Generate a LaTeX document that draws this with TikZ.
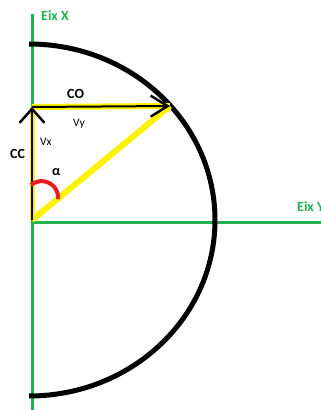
\documentclass[tikz,border=0pt]{standalone}
\usepackage{fontspec}
\setmainfont{Carlito}
\usetikzlibrary{arrows.meta}
\definecolor{pgreen}{HTML}{22B14C}
\definecolor{pyellow}{HTML}{FFF200}
\definecolor{pred}{HTML}{ED1C24}
\begin{document}
\begin{tikzpicture}[x=1pt,y=-1pt,
  axis/.style={draw=pgreen,line width=3pt},
  lbl/.style={inner sep=0pt,anchor=base west,font=\fontsize{14}{16}\selectfont\bfseries},
  axlbl/.style={lbl,text=pgreen},
  small/.style={inner sep=0pt,anchor=base west,font=\fontsize{11.5}{13}\selectfont},
  yel/.style={draw=pyellow,line width=6pt},
  vec/.style={draw=black,line width=2pt,-{Straight Barb[length=14pt,width=25pt,line width=2.5pt]}},
  circ/.style={draw=black,line width=5pt},
  ang/.style={draw=pred,line width=4pt}]
\useasboundingbox (0,0) rectangle (321,410);
\fill[white] (0,0) rectangle (321,410);
% points
\coordinate (O) at (32,220);
\coordinate (A) at (32,107);
\coordinate (B) at (170,106);
\coordinate (Xtop) at (32,14);
\coordinate (Xbot) at (32,412);
\coordinate (Yend) at (323,222);
\coordinate (Yst) at (32,222);
% axes
\draw[axis] (Xtop) -- (Xbot);
\draw[axis] (Yst) -- (Yend);
% semicircle
\draw[circ] (29,44) arc[start angle=-90,end angle=90,x radius=186,y radius=176];
% yellow underlays
\draw[yel,line width=5pt] (O) -- (A);
\draw[yel,line width=6pt] (A) -- (B);
\draw[yel] (O) -- (B);
% vectors
\draw[vec] (O) -- (A);
\draw[vec,-{Straight Barb[length=17pt,width=21pt,line width=2.5pt]}] (A) -- (B);
% angle
\draw[ang] (31,185) arc[start angle=-130,end angle=5,radius=16.5];
% labels
\node[axlbl] (ex) at (41,20) {Eix X};
\node[axlbl] (ey) at (297,211) {Eix Y};
\node[lbl] (co) at (67,98) {CO};
\node[lbl] (cc) at (10,158) {CC};
\node[small] (vy) at (73,126) {Vy};
\node[small] (vx) at (40,145) {Vx};
\node[lbl] (al) at (52,175) {α};
\end{tikzpicture}
\end{document}
